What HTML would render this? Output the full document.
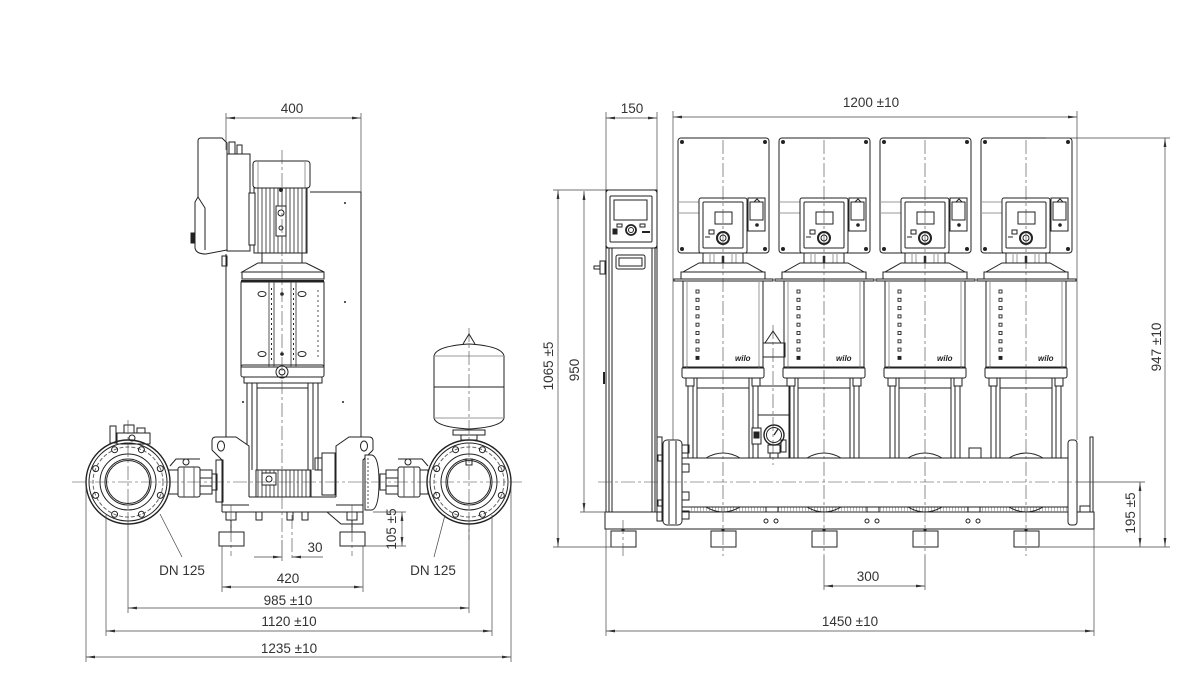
<!DOCTYPE html>
<html><head><meta charset="utf-8"><style>
html,body{margin:0;padding:0;background:#fff;}
svg{display:block}
text{font-family:"Liberation Sans",sans-serif;font-size:13.5px;fill:#333;}
.w{font-size:8px;font-weight:bold;font-style:italic;fill:#222;}
</style></head><body>
<svg width="1200" height="696" viewBox="0 0 1200 696" xmlns="http://www.w3.org/2000/svg">
<defs>
<marker id="ar" markerUnits="userSpaceOnUse" markerWidth="9" markerHeight="4" refX="9" refY="2" orient="auto-start-reverse" viewBox="0 0 9 4"><path d="M0,0.6L9,2L0,3.4z" fill="#333"/></marker>
<pattern id="fin" patternUnits="userSpaceOnUse" width="4" height="10"><line x1="2" y1="0" x2="2" y2="10" stroke="#222" stroke-width="0.8"/></pattern>
<pattern id="hat" patternUnits="userSpaceOnUse" width="3" height="10"><line x1="1.5" y1="0" x2="1.5" y2="10" stroke="#888" stroke-width="0.6"/></pattern>
<g id="rp" fill="none" stroke="#222" stroke-width="1">
 <rect x="-45" y="138" width="91" height="115" rx="3"/>
 <path d="M-45,202H-24M-45,213H-24" stroke="#999"/>
 <rect x="-24" y="198" width="48" height="55" rx="2" fill="#fff"/>
 <rect x="-20" y="202" width="40" height="46" rx="1"/>
 <rect x="-8" y="212" width="17" height="12"/>
 <circle cx="0" cy="238" r="6" stroke-width="2"/>
 <circle cx="0" cy="238" r="3"/>
 <rect x="-14" y="230" width="5" height="4"/>
 <path d="M-18,237h5"/>
 <rect x="25" y="198" width="17" height="33"/>
 <rect x="27" y="202" width="13" height="18"/>
 <circle cx="34" cy="225" r="1.3" fill="#222"/>
 <path d="M31,202l3,-3l3,3"/>
 <g fill="#222" stroke="none"><circle cx="-41" cy="142" r="2"/><circle cx="42" cy="142" r="2"/><circle cx="-41" cy="249" r="2"/><circle cx="42" cy="249" r="2"/></g>
 <rect x="-20" y="253" width="40" height="10"/>
 <path d="M-13,253v10M-9,253v10M9,253v10M13,253v10" stroke="#999"/>
 <path d="M0,256v7" stroke-width="2.5"/>
 <path d="M-24,263L24,263L40,272L-40,272Z"/>
 <rect x="-42" y="272" width="84" height="7"/>
 <rect x="-49" y="279" width="99" height="2"/>
 <rect x="-40" y="281" width="80" height="87"/>
 <path d="M-36,281v87M36,281v87" stroke="#999"/>
 <g stroke-width="0.9">
 <rect x="-27" y="290" width="3" height="3"/><rect x="-27" y="298.3" width="3" height="3"/><rect x="-27" y="306.6" width="3" height="3"/><rect x="-27" y="314.9" width="3" height="3"/><rect x="-27" y="323.2" width="3" height="3"/><rect x="-27" y="331.5" width="3" height="3"/><rect x="-27" y="339.8" width="3" height="3"/><rect x="-27" y="348.1" width="3" height="3"/><rect x="-27" y="356.4" width="3" height="3" fill="#222"/>
 </g>
 <rect x="-41" y="367" width="82" height="11" rx="2"/>
 <rect x="-37" y="378" width="8" height="8"/><rect x="29" y="378" width="8" height="8"/>
 <path d="M-35,386V458M-30,386V458M30,386V458M35,386V458M-26,378V458M26,378V458M-26,388H26"/>
 <path d="M-17,458Q0,448 17,458M-17,507Q0,517 17,507"/>
</g>
</defs>

<!-- ================= LEFT VIEW ================= -->
<g fill="none" stroke="#222" stroke-width="1">
 <path d="M226,254V437M310,192H361V437"/>
 <g fill="#222" stroke="none"><circle cx="345" cy="203" r="1"/><circle cx="345" cy="302" r="1"/><circle cx="343" cy="402" r="1"/><circle cx="243" cy="402" r="1"/></g>
 <path d="M198,141Q198,138 201,138L222,138L227,143L227,250L206,254Q196,254 195,248L195,202L198,197Z" fill="#fff"/>
 <path d="M198,197L205,208L205,250"/>
 <rect x="227" y="154" width="23" height="97" fill="#fff"/>
 <rect x="229" y="142" width="6" height="12"/><rect x="237" y="145" width="5" height="9"/>
 <rect x="191" y="233" width="4" height="10" fill="#222"/>
 <rect x="222" y="256" width="5" height="10"/>
 <rect x="253" y="161" width="57" height="27" rx="3" fill="#fff"/>
 <path d="M258,161v27M305,161v27" stroke="#999"/>
 <rect x="254" y="188" width="53" height="65" fill="url(#fin)"/>
 <rect x="254" y="188" width="53" height="65"/>
 <rect x="276" y="206" width="10" height="30" fill="#fff"/>
 <circle cx="281" cy="213" r="3"/><circle cx="281" cy="228" r="2"/>
 <rect x="249" y="193" width="6" height="52" fill="#fff"/>
 <circle cx="281" cy="190" r="1.5" fill="#222"/>
 <rect x="262" y="253" width="40" height="10"/>
 <path d="M258,263L306,263L324,272L242,272Z"/>
 <rect x="242" y="272" width="82" height="7"/>
 <path d="M241,281L324,281" stroke-width="2"/>
 <rect x="241" y="282" width="83" height="85"/>
 <path d="M269,282v85M274,282v85M291,282v85M296,282v85" stroke="#555"/>
 <path d="M318,290v70" stroke="#555" stroke-dasharray="2 3"/>
 <path d="M271.5,288v72M293.5,288v72" stroke="#222" stroke-dasharray="2 3"/>
 <ellipse cx="262" cy="294" rx="4" ry="2.5"/><ellipse cx="302" cy="294" rx="4" ry="2.5"/>
 <ellipse cx="262" cy="354" rx="4" ry="2.5"/><ellipse cx="302" cy="354" rx="4" ry="2.5"/>
 <circle cx="282" cy="294" r="1.3" fill="#222"/><circle cx="282" cy="354" r="1.3" fill="#222"/>
 <rect x="241" y="365" width="83" height="12" rx="2"/>
 <circle cx="282" cy="372" r="6" fill="#fff"/><circle cx="282" cy="372" r="3"/>
 <rect x="244" y="377" width="78" height="6"/>
 <path d="M247,383V470M252,383V470M313,383V470M318,383V470M257,383V470M308,383V470M257,388H308"/>
 <rect x="256" y="470" width="55" height="27" fill="url(#fin)"/>
 <rect x="256" y="470" width="55" height="27"/>
 <rect x="262" y="473" width="14" height="12" fill="#fff"/><circle cx="269" cy="479" r="3"/>
 <path d="M212,450L212,441Q212,437 216,437L236,437L249,446L249,497M212,450L222,460L222,512" fill="#fff"/>
 <path d="M373,450L373,441Q373,437 369,437L349,437L336,446L336,497M373,450L363,460L363,512" fill="#fff"/>
 <ellipse cx="221" cy="446" rx="3.5" ry="5"/><ellipse cx="364" cy="446" rx="3.5" ry="5"/>
 <path d="M249,497H336M222,512H363M222,505H249M336,505H363"/>
 <path d="M327,512L341,524H363V512"/>
 <rect x="216" y="460" width="7" height="42"/>
 <rect x="322" y="453" width="13" height="42"/>
 <rect x="315" y="458" width="7" height="12"/>
 <path d="M365,455H372Q379,457 379,482Q379,508 372,510H365Z" fill="#fff"/>
 <path d="M368,458v50" stroke="#555" stroke-dasharray="2 2"/>
 <path d="M226,512v8h10v-8M231,520v12M347,512v8h10v-8M352,520v12M256,512v8h6v-8M287,512v8h6v-8M302,512v8h6v-8"/>
 <rect x="219" y="532" width="25" height="14"/>
 <rect x="340" y="532" width="25" height="14"/>
 <rect x="168" y="470" width="10" height="24"/>
 <rect x="178" y="467" width="22" height="30" rx="2" fill="#fff"/>
 <path d="M184,467v30M194,467v30" stroke="#555"/>
 <rect x="200" y="470" width="12" height="24"/>
 <path d="M200,478h12M200,486h12"/>
 <rect x="212" y="474" width="5" height="16"/>
 <path d="M170,466L176,459H200"/><circle cx="186" cy="462" r="3"/>
 <rect x="380" y="474" width="6" height="16"/>
 <rect x="386" y="470" width="12" height="24"/>
 <path d="M386,478h12M386,486h12"/>
 <rect x="398" y="467" width="22" height="30" rx="2" fill="#fff"/>
 <path d="M404,467v30M414,467v30" stroke="#555"/>
 <rect x="420" y="470" width="8" height="24"/>
 <path d="M428,466L422,459H398"/><circle cx="408" cy="462" r="3"/>
 <circle cx="128" cy="482" r="42" stroke-width="1.4" fill="#fff"/>
 <circle cx="128" cy="482" r="39"/>
 <circle cx="128" cy="482" r="35" stroke="#666" stroke-dasharray="4 2"/>
 <circle cx="128" cy="482" r="28"/>
 <circle cx="128" cy="482" r="23"/>
 <circle cx="128" cy="482" r="21.5"/>
 <g><circle cx="114.6" cy="449.7" r="3"/><circle cx="141.4" cy="449.7" r="3"/><circle cx="95.7" cy="468.6" r="3"/><circle cx="160.3" cy="468.6" r="3"/><circle cx="95.7" cy="495.4" r="3"/><circle cx="160.3" cy="495.4" r="3"/><circle cx="114.6" cy="514.3" r="3"/><circle cx="141.4" cy="514.3" r="3"/></g>
 <rect x="110" y="426" width="6" height="17"/>
 <rect x="117" y="433" width="33" height="11"/>
 <rect x="124" y="425" width="10" height="8"/><rect x="137" y="428" width="8" height="5"/>
 <circle cx="132" cy="438" r="3"/>
 <circle cx="469" cy="482" r="42" stroke-width="1.4" fill="#fff"/>
 <circle cx="469" cy="482" r="39"/>
 <circle cx="469" cy="482" r="35" stroke="#666" stroke-dasharray="4 2"/>
 <circle cx="469" cy="482" r="28"/>
 <circle cx="469" cy="482" r="23"/>
 <circle cx="469" cy="482" r="21.5"/>
 <rect x="466" y="459" width="6" height="6"/>
 <g><circle cx="455.6" cy="449.7" r="3"/><circle cx="482.4" cy="449.7" r="3"/><circle cx="436.7" cy="468.6" r="3"/><circle cx="501.3" cy="468.6" r="3"/><circle cx="436.7" cy="495.4" r="3"/><circle cx="501.3" cy="495.4" r="3"/><circle cx="455.6" cy="514.3" r="3"/><circle cx="482.4" cy="514.3" r="3"/></g>
 <path d="M434,356Q436,346 469,344Q502,346 504,356L504,418Q502,427 469,429Q436,427 434,418Z" fill="#fff"/>
 <path d="M434,387H504"/>
 <path d="M434,356H504M434,418H504" stroke="#999"/>
 <path d="M463,344L469,334L475,344"/>
 <rect x="453" y="430" width="32" height="5"/>
 <rect x="461" y="435" width="16" height="5"/>
</g>

<g stroke="#444" stroke-width="0.6" stroke-dasharray="14 3 3 3" fill="none">
 <path d="M282,150V540"/>
 <path d="M469,328V540"/>
 <path d="M128,420V525"/>
 <path d="M72,482H522"/>
 <path d="M231,505V556M352,505V556M292,515V560"/>
</g>

<g stroke="#444" stroke-width="0.7" fill="none">
 <path d="M226,113V150M361,113V192"/>
 <line x1="226" y1="118" x2="361" y2="118" marker-start="url(#ar)" marker-end="url(#ar)"/>
 <path d="M373,512H406M365,546H406"/>
 <line x1="402" y1="512" x2="402" y2="546" marker-start="url(#ar)" marker-end="url(#ar)"/>
 <line x1="254" y1="557" x2="282" y2="557" marker-end="url(#ar)"/>
 <line x1="323" y1="557" x2="292" y2="557" marker-end="url(#ar)"/>
 <path d="M282,540V561"/>
 <path d="M222,546V592M363,546V592"/>
 <line x1="222" y1="587" x2="363" y2="587" marker-start="url(#ar)" marker-end="url(#ar)"/>
 <path d="M128,525V613M469,525V613"/>
 <line x1="128" y1="608" x2="469" y2="608" marker-start="url(#ar)" marker-end="url(#ar)"/>
 <path d="M106,515V636M492,515V636"/>
 <line x1="106" y1="631" x2="492" y2="631" marker-start="url(#ar)" marker-end="url(#ar)"/>
 <path d="M86,486V662M511,486V662"/>
 <line x1="86" y1="657" x2="511" y2="657" marker-start="url(#ar)" marker-end="url(#ar)"/>
 <path d="M160,514L182,557M445,515L434,557"/>
</g>
<text x="292" y="113" text-anchor="middle">400</text>
<text x="182" y="575" text-anchor="middle">DN 125</text>
<text x="433" y="575" text-anchor="middle">DN 125</text>
<text x="315" y="552" text-anchor="middle">30</text>
<text x="288" y="583" text-anchor="middle">420</text>
<text x="288" y="605" text-anchor="middle">985 ±10</text>
<text x="289" y="626" text-anchor="middle">1120 ±10</text>
<text x="289" y="653" text-anchor="middle">1235 ±10</text>
<text transform="translate(396,529) rotate(-90)" text-anchor="middle">105 ±5</text>

<!-- ================= RIGHT VIEW ================= -->
<g fill="none" stroke="#222" stroke-width="1">
 <rect x="605" y="512" width="489" height="17"/>
 <rect x="690" y="507" width="378" height="5" fill="url(#hat)" stroke="none"/>
 <path d="M690,507H1068"/>
 <rect x="766" y="507" width="12" height="5" fill="#fff"/><rect x="867" y="507" width="12" height="5" fill="#fff"/><rect x="968" y="507" width="12" height="5" fill="#fff"/>
 <g><circle cx="766" cy="521" r="2"/><circle cx="776" cy="521" r="2"/><circle cx="867" cy="521" r="2"/><circle cx="877" cy="521" r="2"/><circle cx="968" cy="521" r="2"/><circle cx="978" cy="521" r="2"/></g>
 <rect x="611" y="531" width="25" height="16"/>
 <rect x="711" y="531" width="25" height="16"/>
 <rect x="812" y="531" width="25" height="16"/>
 <rect x="913" y="531" width="25" height="16"/>
 <rect x="1014" y="531" width="25" height="16"/>
 <path d="M623,529v2M723,529v2M824,529v2M925,529v2M1026,529v2" stroke-width="3"/>
 <rect x="682" y="458" width="386" height="49" fill="#fff"/>
 <rect x="758" y="386" width="32" height="72"/>
 <path d="M758,415H790"/>
 <path d="M765,343L773,331L781,343Z"/>
 <rect x="763" y="343" width="22" height="14"/>
</g>
<use href="#rp" x="723"/>
<use href="#rp" x="824"/>
<use href="#rp" x="925"/>
<use href="#rp" x="1026"/>
<g fill="none" stroke="#222" stroke-width="1">
 <rect x="752" y="428" width="9" height="16" fill="#fff"/>
 <rect x="754" y="432" width="5" height="6" fill="#222"/>
 <circle cx="774" cy="435" r="10" fill="#fff" stroke-width="1.4"/>
 <circle cx="774" cy="435" r="7.5"/>
 <path d="M774,435L778,429" stroke-width="1.2"/>
 <rect x="768" y="445" width="12" height="8"/>
 <path d="M770,453h8v5h-8z"/>
 <rect x="781" y="440" width="5" height="12"/>
 <rect x="969" y="448" width="12" height="10"/>
 <rect x="657" y="437" width="5" height="84"/>
 <rect x="663" y="440" width="19" height="85" rx="4" fill="#fff"/>
 <path d="M669,441v83M676,441v83"/>
 <rect x="682" y="445" width="7" height="8"/><rect x="682" y="464" width="7" height="8"/><rect x="682" y="492" width="7" height="8"/><rect x="682" y="511" width="7" height="8"/>
 <rect x="658" y="455" width="5" height="6"/><rect x="658" y="500" width="5" height="6"/>
 <rect x="1068" y="440" width="9" height="85" rx="3" fill="#fff"/>
 <rect x="1090" y="437" width="3" height="75"/>
 <rect x="1080" y="506" width="10" height="6"/>
 <rect x="606" y="190" width="51" height="322" fill="#fff"/>
 <rect x="606" y="190" width="51" height="58" rx="3"/>
 <rect x="610" y="196" width="42" height="46" rx="1"/>
 <rect x="614" y="200" width="33" height="20"/>
 <circle cx="631" cy="230" r="5" stroke-width="1.8"/>
 <circle cx="631" cy="230" r="2.5"/>
 <rect x="617" y="224" width="5" height="3"/><rect x="640" y="224" width="5" height="3"/>
 <rect x="613" y="229" width="4" height="5" fill="#222"/>
 <path d="M642,232h8" stroke-width="2"/>
 <path d="M609,248V512M612,248V512M652,248V512M655,248V512"/>
 <path d="M606,248H657"/>
 <rect x="616" y="255" width="29" height="14" rx="2"/>
 <rect x="619" y="258" width="23" height="8"/>
 <rect x="600" y="261" width="5" height="13"/>
 <path d="M594,266h6v3h-6z"/>
 <path d="M604,372v12" stroke-width="2"/>
 <path d="M657,270V300" stroke-width="0.5"/>
</g>
<text class="w" x="735" y="361">wilo</text>
<text class="w" x="836" y="361">wilo</text>
<text class="w" x="937" y="361">wilo</text>
<text class="w" x="1038" y="361">wilo</text>

<g stroke="#444" stroke-width="0.6" stroke-dasharray="14 3 3 3" fill="none">
 <path d="M723,140V556M824,140V556M925,140V556M1026,140V556M623,520V556M773,325V465"/>
 <path d="M598,482H1077"/>
</g>

<g stroke="#444" stroke-width="0.7" fill="none">
 <path d="M606,112V190M657,112V190"/>
 <line x1="606" y1="118" x2="657" y2="118" marker-start="url(#ar)" marker-end="url(#ar)"/>
 <path d="M673,111V440M1077,111V440"/>
 <line x1="673" y1="117" x2="1077" y2="117" marker-start="url(#ar)" marker-end="url(#ar)"/>
 <path d="M553,190H606M580,512H606M553,547H623"/>
 <line x1="558" y1="190" x2="558" y2="547" marker-start="url(#ar)" marker-end="url(#ar)"/>
 <line x1="584" y1="191" x2="584" y2="512" marker-start="url(#ar)" marker-end="url(#ar)"/>
 <path d="M1046,138H1170M1040,547H1170M1077,482H1145"/>
 <line x1="1165" y1="138" x2="1165" y2="547" marker-start="url(#ar)" marker-end="url(#ar)"/>
 <line x1="1140" y1="482" x2="1140" y2="547" marker-start="url(#ar)" marker-end="url(#ar)"/>
 <path d="M824,556V590M925,556V590"/>
 <line x1="824" y1="586" x2="925" y2="586" marker-start="url(#ar)" marker-end="url(#ar)"/>
 <path d="M606,529V636M1094,529V636"/>
 <line x1="606" y1="631" x2="1094" y2="631" marker-start="url(#ar)" marker-end="url(#ar)"/>
</g>
<text x="632" y="113" text-anchor="middle">150</text>
<text x="871" y="107" text-anchor="middle">1200 ±10</text>
<text x="868" y="581" text-anchor="middle">300</text>
<text x="850" y="626" text-anchor="middle">1450 ±10</text>
<text transform="translate(553,366) rotate(-90)" text-anchor="middle">1065 ±5</text>
<text transform="translate(579,370) rotate(-90)" text-anchor="middle">950</text>
<text transform="translate(1161,347) rotate(-90)" text-anchor="middle">947 ±10</text>
<text transform="translate(1135,513) rotate(-90)" text-anchor="middle">195 ±5</text>
</svg>
</body></html>
